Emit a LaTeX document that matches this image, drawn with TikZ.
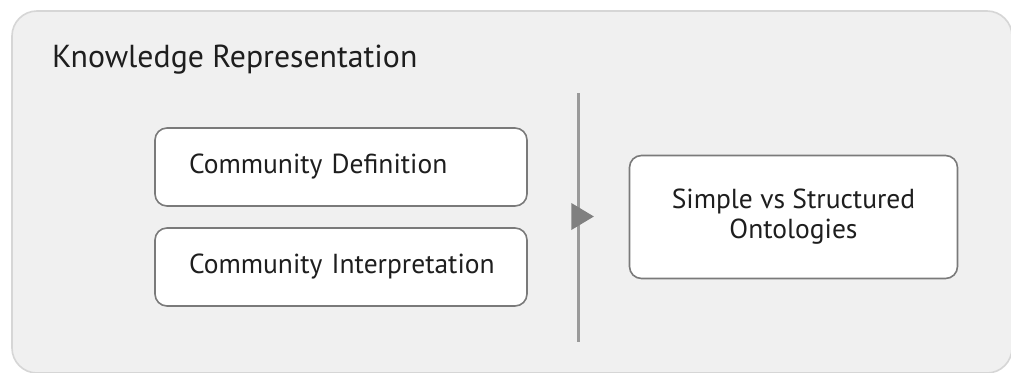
\documentclass[tikz,border=0pt]{standalone}
\usepackage{fontspec}
\setmainfont{PT Sans}
\usetikzlibrary{shapes.geometric}
\definecolor{panelfill}{HTML}{F0F0F0}
\definecolor{panelline}{HTML}{D6D6D6}
\definecolor{boxline}{HTML}{7A7A7A}
\definecolor{divider}{HTML}{9A9A9A}
\definecolor{arrowgray}{HTML}{808080}
\definecolor{textgray}{HTML}{1E1E1E}
\tikzset{
  topic/.style={draw=boxline, line width=1.6pt, fill=white, rounded corners=12pt,
    font=\fontsize{27.5}{30}\selectfont, text=textgray},
  leftbox/.style={topic, minimum width=372pt, minimum height=78pt,
    text width=304pt, align=left, inner xsep=34pt},
}
\begin{document}
\begin{tikzpicture}[x=1pt,y=-1pt]
  \useasboundingbox (0,0) rectangle (1011,372);
  \fill[white] (0,0) rectangle (1011,372);
  \begin{scope}
    \clip (0,0) rectangle (1011,372);
    \draw[panelline, fill=panelfill, line width=1.6pt, rounded corners=25pt]
      (12,11) rectangle (1012,373);
  \end{scope}
  \node[anchor=base west, font=\fontsize{31.8}{36}\selectfont, text=textgray, inner sep=0pt]
    (title) at (52,67) {Knowledge Representation};

  \node[leftbox] (def) at (341,167) {\mbox{Community Definition}};
  \node[leftbox] (interp) at (341,267) {\mbox{Community Interpretation}};

  \node[topic, minimum width=328pt, minimum height=123pt, align=center] (onto) at (793.5,217)
    {Simple vs Structured\\Ontologies};

  \coordinate (divtop) at (578,93);
  \coordinate (divbot) at (578,342);
  \draw[divider, line width=3pt] (divtop) -- (divbot);
  \node[isosceles triangle, isosceles triangle apex angle=62, fill=arrowgray,
    inner sep=0pt, minimum height=22pt, minimum width=27pt, anchor=center] (tip) at (579,216.5) {};
\end{tikzpicture}
\end{document}
